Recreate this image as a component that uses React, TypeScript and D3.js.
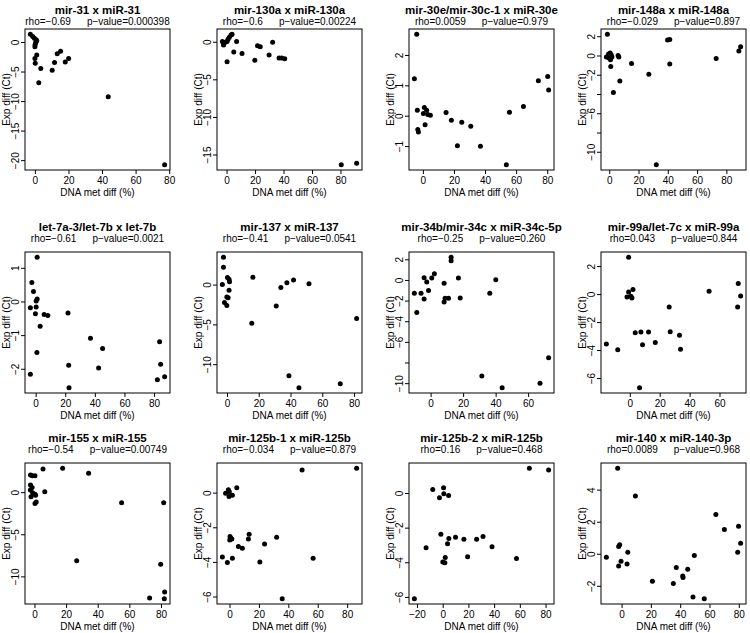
import React from 'react';
import * as d3 from 'd3';

const FONT = "'Liberation Sans', Arial, Helvetica, sans-serif";

const titles = [
  'mir-31 x miR-31', 'mir-130a x miR-130a', 'mir-30e/mir-30c-1 x miR-30e', 'mir-148a x miR-148a',
  'let-7a-3/let-7b x let-7b', 'mir-137 x miR-137', 'mir-34b/mir-34c x miR-34c-5p', 'mir-99a/let-7c x miR-99a',
  'mir-155 x miR-155', 'mir-125b-1 x miR-125b', 'mir-125b-2 x miR-125b', 'mir-140 x miR-140-3p',
];
const rhoLabels = ['rho=−0.69', 'rho=−0.6', 'rho=0.0059', 'rho=−0.029', 'rho=−0.61', 'rho=−0.41',
  'rho=−0.25', 'rho=0.043', 'rho=−0.54', 'rho=−0.034', 'rho=0.16', 'rho=0.0089'];
const pLabels = ['p−value=0.000398', 'p−value=0.00224', 'p−value=0.979', 'p−value=0.897', 'p−value=0.0021',
  'p−value=0.0541', 'p−value=0.260', 'p−value=0.844', 'p−value=0.00749', 'p−value=0.879', 'p−value=0.468', 'p−value=0.968'];

const p1X = [-3.0, -1.6, -0.6, 0.4, 0.8, 0.2, -0.2, -0.3, 0.8, -0.3, -0.1, 3.2, 2.0, 10.0, 11.4, 13.0, 15.0, 17.8, 19.8, 43.4, 77.0];
const p1Y = [1.4, 1.0, 0.7, 0.45, 0.3, 0.0, -0.4, -0.7, -2.1, -2.7, -3.5, -4.4, -6.8, -4.7, -3.4, -1.9, -1.5, -3.3, -2.7, -9.2, -20.7];
const p2X = [-3.3, -2.5, -2.3, -1.2, 0, 0.7, 1.6, 2.8, 3.5, 0, 4.7, 6.7, 10.5, 19.5, 21.4, 23.3, 29.5, 32, 36.5, 38.4, 40.5, 80.2, 91];
const p2Y = [0.1, -0.35, -0.15, 0, 0.1, 0.4, 0.67, 0.98, 1.07, -2.6, -1.3, 0.1, -1.5, -2.4, -0.45, -0.6, -1.7, 0, -2.1, -2.1, -2.2, -16.3, -16.1];
const p3X = [-4.3, -5.8, -3.9, -3.6, -3.2, 0.6, 0, 2.1, 2.8, 4.5, 1.1, 14.6, 18, 21.9, 24.7, 30.5, 36.7, 53.4, 55.4, 64.4, 74, 80, 80.6];
const p3Y = [2.7, 1.23, 0.2, -0.44, -0.52, 0.29, 0.09, 0.2, 0.06, 0.03, -0.28, 0.12, -0.13, -0.97, -0.2, -0.33, -0.99, -1.6, 0.13, 0.32, 1.17, 1.31, 0.86];
const p4X = [-1.6, -2.3, -0.8, 0.3, 1.0, 1.5, -0.5, 0.5, 0, 0.7, 6.2, 5.7, 6.9, 2.5, 14.9, 26.7, 39.5, 41, 41, 31.8, 72.7, 88.2, 89.4];
const p4Y = [2.26, -0.1, 0.2, 0.3, 0.1, -0.1, -0.2, -0.4, 0.05, -1.1, -0.1, 0.05, -2.6, -3.8, -0.77, -1.9, 1.67, 1.7, -0.83, -11.3, -0.25, 0.52, 0.97];
const p5X = [0.7, -2.9, -1.8, 0.7, 0, -3.9, 0, -0.5, 2.7, 5.4, 7.9, 21.5, 0.5, -3.9, 22, 22.2, 36.7, 42.2, 44.9, 83.4, 84.1, 81.9, 86.8];
const p5Y = [1.33, 0.58, 0.31, 0.09, 0.03, -0.17, -0.15, -0.35, -0.72, -0.37, -0.4, -0.33, -1.5, -2.15, -1.88, -2.55, -1.08, -1.96, -1.38, -1.18, -1.85, -2.31, -2.22];
const p6X = [-2.5, -2.5, -3.2, 0, 1, 1.3, 1, 0.4, -0.4, -1.9, -0.4, 16, 15.3, 30.7, 33.6, 37.4, 41.6, 51.3, 38.7, 45, 71, 81.3];
const p6Y = [3.5, 2.25, 0.08, 0.94, 0.72, 0.43, -0.64, -1.6, -1.5, -2.2, -2.55, 0.98, -4.8, -2.64, -0.3, 0.3, 0.64, 0.17, -11.4, -12.9, -12.4, -4.2];
const p7X = [-10.3, -8.8, -6.2, -4.3, -4.3, -2.7, -1.6, 0.4, 2, 8, 8, 8.6, 10.7, 12.3, 12.3, 16.8, 17.9, 36.1, 39.8, 31.2, 43.7, 67, 72.3];
const p7Y = [-1.24, -3.1, -1.24, 0.26, -1.8, -0.16, -0.98, 0.23, 0.65, -0.26, -2.1, -1.73, -1.73, 2.25, 1.9, 0.23, -1.7, -1.24, 0.07, -9.25, -10.4, -9.96, -7.5];
const p8X = [-16, -8.4, -1.1, -2.2, -1.1, 0.4, 1.1, 1.8, 3.3, 7.1, 8.2, 12.2, 16.7, 26, 26.7, 32.9, 33.6, 6.2, 52.7, 71.8, 72.2, 73.8];
const p8Y = [-3.53, -3.94, 2.67, -0.17, 0.19, -0.12, -0.24, 0.36, -2.72, -2.67, -3.58, -2.67, -3.43, -0.89, -2.65, -2.9, -3.9, -6.66, 0.24, -0.89, 0.79, -0.1];
const p9X = [-2.8, -1.7, 0, -2.8, -1.8, -2.9, -1.5, 0, -2.5, 0.4, 0.8, 0, 5.1, 6.2, 17.5, 33.9, 26.4, 54.8, 81.4, 79.5, 72.5, 82, 81.8];
const p9Y = [2.1, 2.0, 2.0, 0.9, 0.6, 0.3, 0.0, -0.2, -0.5, -0.3, -1.1, -1.3, 2.8, 0.1, 2.9, 2.3, -8.1, -1.2, -1.2, -8.5, -12.5, -11.8, -12.6];
const p10X = [49, 86.1, -3, -1.1, -0.7, 1.6, -0.5, 4.6, 0, -0.2, 0.6, 1.2, -5.2, -1.8, 1.6, 5.7, 8.4, 12.5, 13, 20.3, 23.5, 31.7, 56.5, 35.5];
const p10Y = [1.34, 1.44, 0, 0.2, -0.2, -0.12, 0.08, 0.31, -2.5, -2.7, -2.6, -2.65, -3.68, -4.0, -3.76, -3.08, -3.18, -2.65, -2.38, -3.98, -2.94, -2.55, -3.76, -6.1];
const p11X = [-22.4, -13.3, -8.1, -2.9, 0.3, 0.5, 4.2, -1.8, 4.4, 3.4, 1.6, -0.3, 1.3, 9.6, 16.1, 19, 26, 31, 38, 57, 67, 82];
const p11Y = [-6.08, -3.13, 0.23, -0.25, 0.33, -0.02, -0.12, -2.35, -2.6, -2.9, -3.7, -3.95, -4.0, -2.52, -2.64, -3.65, -2.64, -2.49, -3.07, -3.75, 1.46, 1.36];
const p12X = [-3, 9.1, -10.7, -2.3, -1.6, -2.3, -0.7, 3.4, 3.9, 20.7, 35, 37, 41.4, 41.6, 44.8, 49.3, 48.4, 56.1, 64, 69.8, 79.5, 78.9, 80.9];
const p12Y = [5.37, 3.64, -0.19, 0.48, 0.59, -0.74, -0.44, -0.61, 0.13, -1.68, -1.83, -0.82, -1.36, -1.45, -0.93, -0.08, -2.67, -2.78, 2.48, 1.54, 1.75, 0.13, 0.69];

const xsAll = [p1X, p2X, p3X, p4X, p5X, p6X, p7X, p8X, p9X, p10X, p11X, p12X];
const ysAll = [p1Y, p2Y, p3Y, p4Y, p5Y, p6Y, p7Y, p8Y, p9Y, p10Y, p11Y, p12Y];

const x0to80 = [0, 20, 40, 60, 80];
const xTicks = [x0to80, x0to80, x0to80, x0to80, x0to80, x0to80, [0, 20, 40, 60], [0, 20, 40, 60], x0to80, x0to80, [-20, 0, 20, 40, 60, 80], x0to80];
const yTicks = [
  [-20, -15, -10, -5, 0], [-15, -10, -5, 0], [-1, 0, 1, 2], [-10, -8, -6, -4, -2, 0, 2],
  [-2, -1, 0, 1], [-10, -5, 0], [-10, -8, -6, -4, -2, 0, 2], [-6, -4, -2, 0, 2],
  [-10, -5, 0], [-6, -4, -2, 0], [-6, -4, -2, 0], [-2, 0, 2, 4],
];
const yUnlabeled = [[], [], [], [-8, -4], [], [], [-8], [], [], [], [], []];

const xTitle = 'DNA met diff (%)';
const yTitle = 'Exp diff (Ct)';

// layout
const colLeft = [25, 217, 409, 601];
const rowTop = [29, 252, 463];
const boxW = 145;
const boxH = 141;
const TICK = 4;

const fmt = (v: number) => String(v).replace('-', '−');

function Panel({ i }: { i: number }) {
  const col = i % 4;
  const row = Math.floor(i / 4);
  const L = colLeft[col];
  const T = rowTop[row];
  const R = L + boxW;
  const B = T + boxH;
  const xv = xsAll[i];
  const yv = ysAll[i];
  const [xa, xb] = d3.extent(xv) as [number, number];
  const [ya, yb] = d3.extent(yv) as [number, number];
  const px = (xb - xa) * 0.04;
  const py = (yb - ya) * 0.04;
  const x = d3.scaleLinear().domain([xa - px, xb + px]).range([L, R]);
  const y = d3.scaleLinear().domain([ya - py, yb + py]).range([B, T]);
  const cx = (L + R) / 2;
  const cy = (T + B) / 2;
  const titleY = row === 0 ? 14 : T - 21;
  const rhoY = row === 0 ? 25 : T - 10;
  return (
    <g>
      <text x={cx} y={titleY} textAnchor="middle" fontSize={11.5} fontWeight="bold">{titles[i]}</text>
      <text x={cx} y={rhoY} textAnchor="middle" fontSize={10}>
        <tspan>{rhoLabels[i]}</tspan>
        <tspan dx={16}>{pLabels[i]}</tspan>
      </text>
      {xv.map((d, k) => (
        <circle key={k} cx={x(d)} cy={y(yv[k])} r={2.5} fill="#000" />
      ))}
      <rect x={L} y={T} width={boxW} height={boxH} fill="none" stroke="#000" strokeWidth={1} />
      {xTicks[i].map((t) => (
        <g key={'x' + t}>
          <line x1={x(t)} x2={x(t)} y1={B} y2={B + TICK} stroke="#000" />
          <text x={x(t)} y={B + 14} textAnchor="middle" fontSize={10}>{fmt(t)}</text>
        </g>
      ))}
      {yTicks[i].map((t) => (
        <g key={'y' + t}>
          <line x1={L - TICK} x2={L} y1={y(t)} y2={y(t)} stroke="#000" />
          {yUnlabeled[i].indexOf(t) < 0 && (
            <text transform={`translate(${L - 6},${y(t)}) rotate(-90)`} textAnchor="middle" fontSize={10}>{fmt(t)}</text>
          )}
        </g>
      ))}
      <text x={cx} y={B + 26} textAnchor="middle" fontSize={10}>{xTitle}</text>
      <text transform={`translate(${L - 15},${cy}) rotate(-90)`} textAnchor="middle" fontSize={10}>{yTitle}</text>
    </g>
  );
}

export default function App() {
  return (
    <svg width={750} height={633} style={{ position: 'absolute', left: 0, top: 0, background: '#fff' }} fontFamily={FONT}>
      <rect width={750} height={633} fill="#fff" />
      {titles.map((_, i) => (
        <Panel key={i} i={i} />
      ))}
    </svg>
  );
}
